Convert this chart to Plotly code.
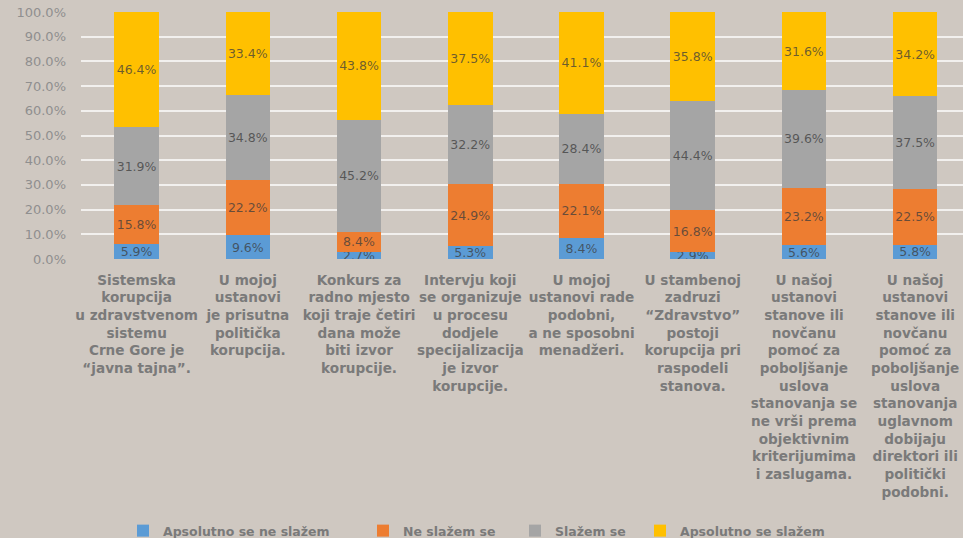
import plotly.graph_objects as go

categories = [
    "Sistemska<br>korupcija<br>u zdravstvenom<br>sistemu<br>Crne Gore je<br>“javna tajna”.",
    "U mojoj<br>ustanovi<br>je prisutna<br>politička<br>korupcija.",
    "Konkurs za<br>radno mjesto<br>koji traje četiri<br>dana može<br>biti izvor<br>korupcije.",
    "Intervju koji<br>se organizuje<br>u procesu<br>dodjele<br>specijalizacija<br>je izvor<br>korupcije.",
    "U mojoj<br>ustanovi rade<br>podobni,<br>a ne sposobni<br>menadžeri.",
    "U stambenoj<br>zadruzi<br>“Zdravstvo”<br>postoji<br>korupcija pri<br>raspodeli<br>stanova.",
    "U našoj<br>ustanovi<br>stanove ili<br>novčanu<br>pomoć za<br>poboljšanje<br>uslova<br>stanovanja se<br>ne vrši prema<br>objektivnim<br>kriterijumima<br>i zaslugama.",
    "U našoj<br>ustanovi<br>stanove ili<br>novčanu<br>pomoć za<br>poboljšanje<br>uslova<br>stanovanja<br>uglavnom<br>dobijaju<br>direktori ili<br>politički<br>podobni.",
]

series_names = ["Apsolutno se ne slažem", "Ne slažem se", "Slažem se", "Apsolutno se slažem"]
apsolutno_ne = [5.9, 9.6, 2.7, 5.3, 8.4, 2.9, 5.6, 5.8]
ne_slazem = [15.8, 22.2, 8.4, 24.9, 22.1, 16.8, 23.2, 22.5]
slazem = [31.9, 34.8, 45.2, 32.2, 28.4, 44.4, 39.6, 37.5]
apsolutno_da = [46.4, 33.4, 43.8, 37.5, 41.1, 35.8, 31.6, 34.2]

y_ticks = [0, 10, 20, 30, 40, 50, 60, 70, 80, 90, 100]
y_ticklabels = ["0.0%", "10.0%", "20.0%", "30.0%", "40.0%", "50.0%", "60.0%", "70.0%", "80.0%", "90.0%", "100.0%"]

colors = ["#5b9bd5", "#ed7d31", "#a5a5a5", "#ffc000"]
values = [apsolutno_ne, ne_slazem, slazem, apsolutno_da]
legend_ids = ["legend", "legend2", "legend3", "legend4"]
legend_x = [123, 363, 515, 640]

BG = "#cfc8c1"
W, H = 963, 538

fig = go.Figure()
for name, vals, col, lg in zip(series_names, values, colors, legend_ids):
    fig.add_trace(go.Bar(
        x=categories, y=vals, name=name, marker_color=col, marker_line_width=0,
        width=0.4, legend=lg,
        texttemplate="%{y:.1f}%", textposition="inside", insidetextanchor="middle",
        textangle=0, constraintext="none",
        textfont=dict(family="DejaVu Sans", size=12.5, color="rgba(60,60,60,0.75)"),
    ))

legend_common = dict(
    xref="container", yref="container", y=1 - 531 / H, yanchor="middle", xanchor="left",
    bgcolor="rgba(0,0,0,0)", itemwidth=30,
    font=dict(family="DejaVu Sans", size=12.5, color="#7a7a7a", weight="bold"),
)

layout_legends = {}
for lg, lx in zip(legend_ids, legend_x):
    layout_legends[lg] = dict(legend_common, x=lx / W)

fig.update_layout(
    width=W, height=H,
    barmode="stack",
    paper_bgcolor=BG, plot_bgcolor=BG,
    margin=dict(l=81, r=0, t=12, b=279, autoexpand=False),
    uniformtext=dict(minsize=11, mode="show"),
    showlegend=True,
    **layout_legends,
)

fig.update_xaxes(
    type="category", automargin=False,
    range=[-0.5, 7.43], showgrid=False, zeroline=False, showline=False,
    tickfont=dict(family="DejaVu Sans", size=13.6, color="#7a7a7a", weight="bold"),
    tickangle=0, ticklabelstandoff=11,
)
fig.update_yaxes(
    automargin=False,
    range=[0, 100], tickvals=y_ticks, ticktext=y_ticklabels,
    showgrid=True, gridcolor="#f2f0ee", gridwidth=2, zeroline=False, showline=False,
    tickfont=dict(family="DejaVu Sans", size=13, color="#8f8f8f"),
    ticklabelstandoff=14,
)

fig.write_html("out.html", config={"displayModeBar": False},
               post_script="document.body.style.margin='0';")
